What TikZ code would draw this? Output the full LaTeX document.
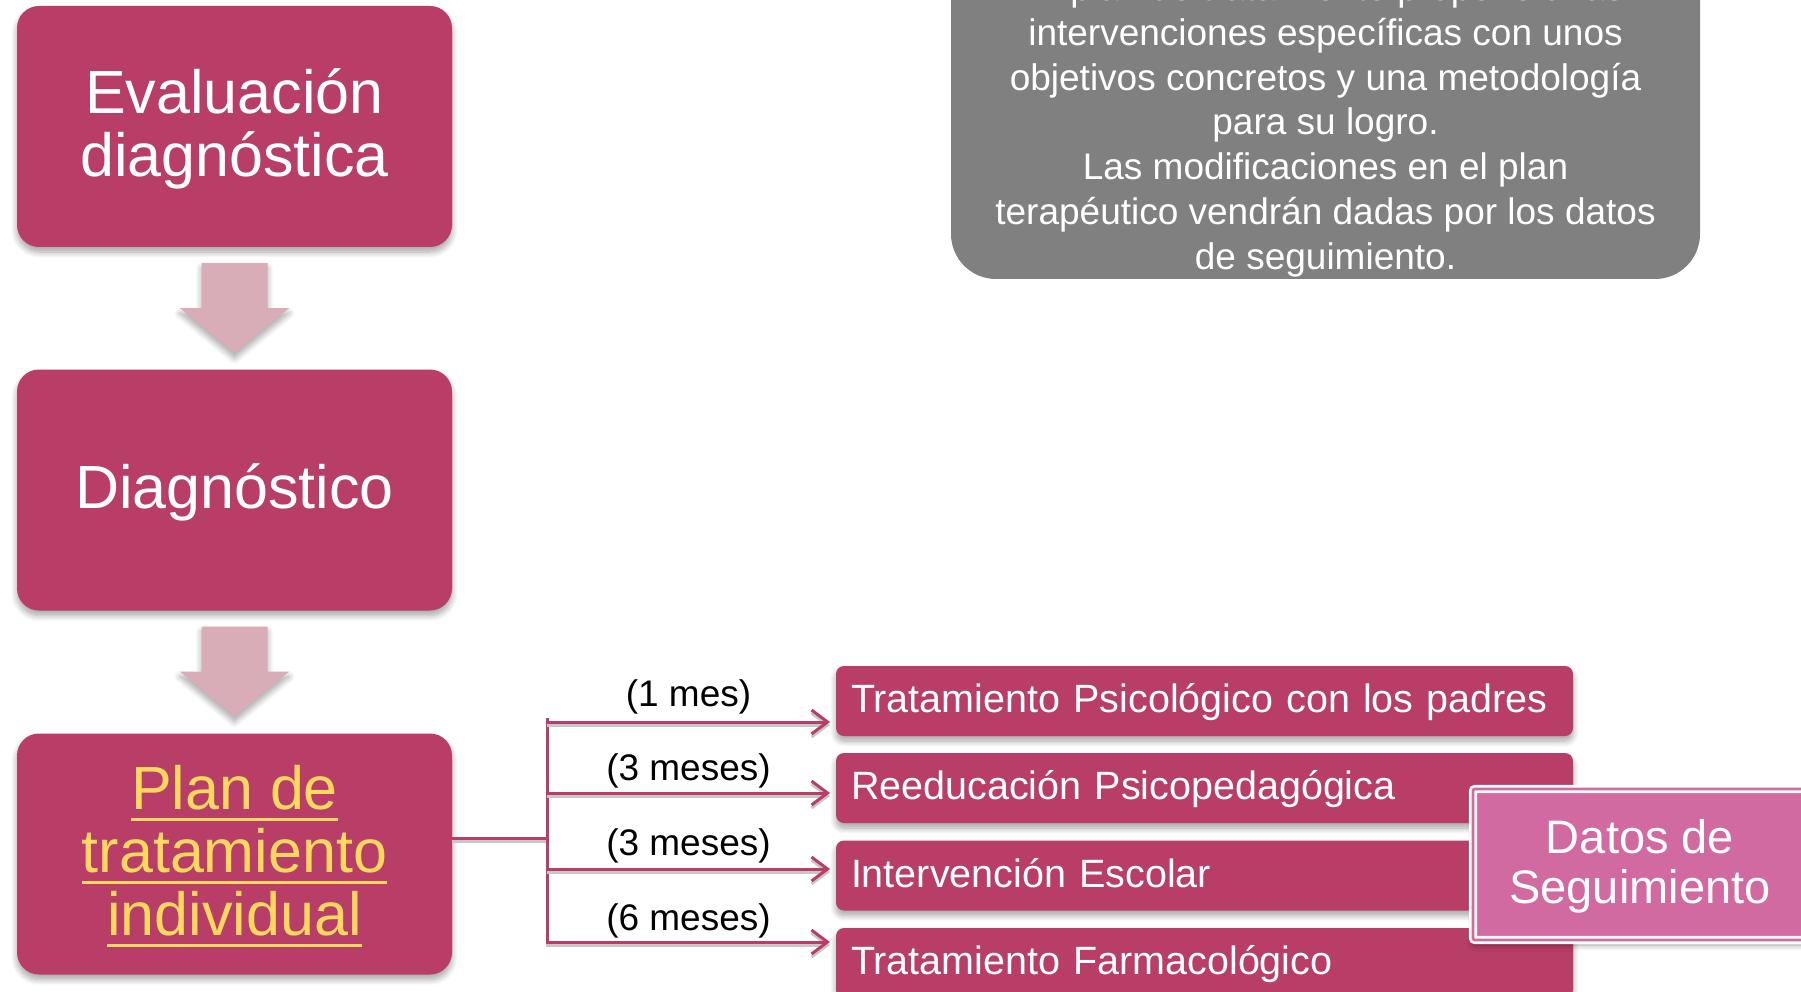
\documentclass[tikz,border=0pt]{standalone}
\usepackage{fontspec}
\setmainfont{Liberation Sans}
\usetikzlibrary{shadows,shadows.blur,calc,arrows.meta}
\definecolor{mag}{HTML}{B83D67}
\definecolor{pale}{HTML}{D8ADB8}
\definecolor{grayb}{HTML}{808080}
\definecolor{datpink}{HTML}{D06AA0}
\definecolor{yel}{HTML}{FFD860}
\newcommand\myul[1]{\leavevmode\setbox0\hbox{#1}\rlap{\rule[-12pt]{\wd0}{3.5pt}}\box0}
\newcommand\blockarr[1]{\fill[blk] ($(#1.south)+(-33,16)$) -- ($(#1.south)+(33,16)$) -- ($(#1.south)+(33,61)$) -- ($(#1.south)+(54.5,61)$) -- ($(#1.south)+(0,106)$) -- ($(#1.south)+(-54.5,61)$) -- ($(#1.south)+(-33,61)$) -- cycle;}
\begin{document}
\begin{tikzpicture}[x=1pt,y=-1pt,
  shd/.style={blur shadow={shadow xshift=0pt, shadow yshift=-5pt, shadow blur steps=8, shadow blur radius=6pt, shadow opacity=35}},
  bigbox/.style={shd, rounded corners=22pt, fill=mag, text=white, minimum width=435pt, minimum height=241pt, align=center, inner sep=0pt, font=\fontsize{61}{63}\selectfont},
  stepbox/.style={shd, rounded corners=8pt, fill=mag, text=white, text width=707pt, inner xsep=15pt, inner ysep=0pt, minimum height=70pt, text height=32pt, text depth=8.6pt, align=left, font=\fontsize{39.5}{45}\selectfont},
  datos/.style={shd, fill=datpink, draw=white, double=datpink, double distance=2.7pt, line width=2.7pt, minimum width=334pt, minimum height=151pt, align=center, text=white, inner sep=0pt, font=\fontsize{47}{50}\selectfont, rounded corners=2pt},
  lbl/.style={inner sep=0pt, text height=27pt, text depth=8pt, font=\fontsize{37}{44}\selectfont},
  conn/.style={draw=mag, line width=3pt, preaction={draw=black!22, line width=3pt, transform canvas={yshift=-3pt}}},
  arr/.style={conn, -{Straight Barb[length=16pt,width=24pt]}},
  blk/.style={fill=pale, shd},
]
\useasboundingbox (0,0) rectangle (1801,992);
\clip (0,0) rectangle (1801,992);

% grey note
\node[fill=grayb, rounded corners=45pt, minimum width=749pt, minimum height=379pt, inner sep=0pt] (note) at (1325.5,89.5) {};
\node[anchor=north, align=center, text=white, inner sep=0pt, font=\fontsize{37}{44.8}\selectfont] (notetext) at (1325.5,-29.7) {\rule{0pt}{30pt}El plan de tratamiento propone unas\\intervenciones específicas con unos\\objetivos concretos y una metodología\\para su logro.\\Las modificaciones en el plan\\terapéutico vendrán dadas por los datos\\de seguimiento.};

% main column
\node[bigbox] (e1) at (234.5,126.5) {\rule{0pt}{55pt}Evaluación\\diagnóstica\rule[-17pt]{0pt}{0pt}};
\node[bigbox, text height=50pt, text depth=14pt] (e2) at (234.5,490) {Diagnóstico};
\node[bigbox, text=yel] (e3) at (234.5,854) {\rule{0pt}{50pt}\myul{Plan de}\\\myul{tratamiento}\\\myul{individual}\rule[-14pt]{0pt}{0pt}};
\blockarr{e1}
\blockarr{e2}

% branch connectors
\coordinate (bj) at (547,838);
\coordinate (bt) at (547,718);
\coordinate (bb) at (547,944);
\coordinate (sA) at (547,722);
\coordinate (sB) at (547,793);
\coordinate (sC) at (547,869);
\coordinate (sD) at (547,942);
\coordinate (tA) at (830,722);
\coordinate (tB) at (830,793);
\coordinate (tC) at (830,869);
\coordinate (tD) at (830,942);
\draw[conn] (e3.east |- bj) -- (bj);
\draw[conn] (bt) -- (bb);
\draw[arr] (sA) -- (tA);
\draw[arr] (sB) -- (tB);
\draw[arr] (sC) -- (tC);
\draw[arr] (sD) -- (tD);

\node[lbl] (lA) at (688.5,696.5) {(1 mes)};
\node[lbl] (lB) at (688.5,770.5) {(3 meses)};
\node[lbl] (lC) at (688.5,846) {(3 meses)};
\node[lbl] (lD) at (688.5,920.5) {(6 meses)};

% treatment boxes
\node[stepbox] (A) at (1204.5,701) {Tratamiento Psicológico con los padres};
\node[stepbox] (B) at (1204.5,788) {Reeducación Psicopedagógica};
\node[stepbox] (C) at (1204.5,875.5) {Intervención Escolar};
\node[stepbox] (D) at (1204.5,963) {Tratamiento Farmacológico};

% follow-up data
\node[datos] (dat) at (1640,864.5) {\rule{0pt}{40pt}Datos de\\Seguimiento\rule[-13pt]{0pt}{0pt}};
\end{tikzpicture}
\end{document}
